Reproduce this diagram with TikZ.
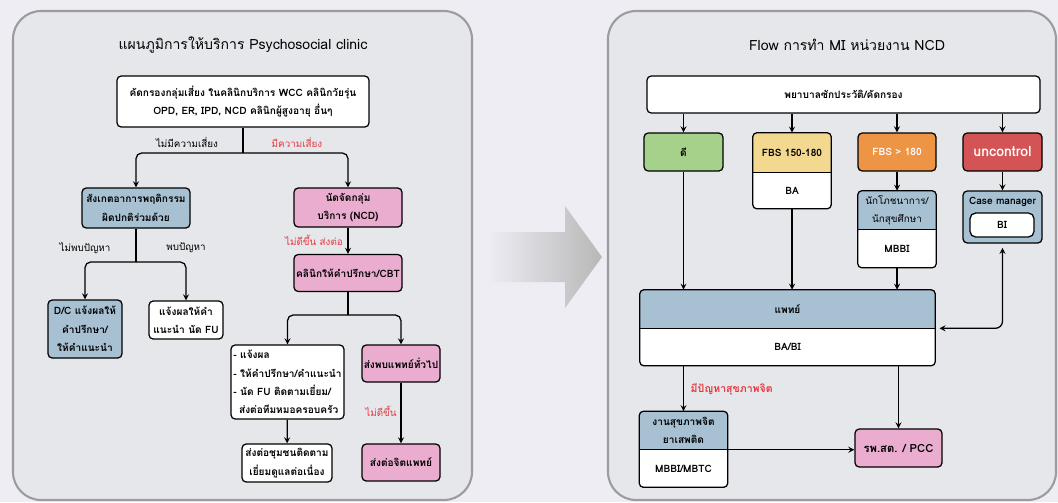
\documentclass[tikz,border=0pt]{standalone}
\usepackage{fontspec}
\setmainfont[Script=Thai]{Loma}
\usetikzlibrary{positioning}
\usetikzlibrary{arrows}
\usetikzlibrary{backgrounds}
\definecolor{pagebg}{HTML}{EEEDF4}
\definecolor{panelbg}{HTML}{E6E7EA}
\definecolor{panelline}{HTML}{9C9C9E}
\definecolor{bluebox}{HTML}{A7C1D3}
\definecolor{pinkbox}{HTML}{EAADCF}
\definecolor{greenbox}{HTML}{A6D18A}
\definecolor{yellowbox}{HTML}{F3D98F}
\definecolor{orangebox}{HTML}{EE9445}
\definecolor{redbox}{HTML}{D45456}
\definecolor{redtext}{HTML}{E8383D}
\begin{document}
\begin{tikzpicture}[x=0.025cm, y=-0.025cm,
  wh/.style 2 args={minimum width=#1*0.025cm, minimum height=#2*0.025cm},
  txt/.style={font=\fontsize{7.2}{13}\selectfont\bfseries, align=center, inner sep=1pt},
  box/.style={txt, draw, line width=0.9pt, rounded corners=3pt},
  part/.style={txt},
  lbl/.style={font=\fontsize{7}{9}\selectfont, inner sep=1pt},
  warn/.style={lbl, text=redtext},
  arr/.style={-stealth, line width=0.9pt},
  link/.style={line width=0.9pt},
  title/.style={font=\fontsize{10}{12}\selectfont}]
\useasboundingbox (0,0) rectangle (1058,502);
\begin{scope}[on background layer]
  \fill[pagebg] (0,0) rectangle (1058,502);
  \draw[panelline, fill=panelbg, line width=1.5pt, rounded corners=20pt] (13,11) rectangle (472,500);
  \draw[panelline, fill=panelbg, line width=1.5pt, rounded corners=20pt] (608,11) rectangle (1056,500);
  \shade[left color=pagebg, right color=black!28] (487,232) -- (565,232) -- (565,206) -- (602,257)
    -- (565,308) -- (565,282) -- (487,282) -- cycle;
\end{scope}

% left panel
\node[title] (ltitle) at (243,45) {แผนภูมิการให้บริการ Psychosocial clinic};
\node[box, fill=white, wh={252}{51}] (screen) at (243,101.5)
  {คัดกรองกลุ่มเสี่ยง ในคลินิกบริการ WCC คลินิกวัยรุ่น\\OPD, ER, IPD, NCD คลินิกผู้สูงอายุ อื่นๆ};
\node[box, fill=bluebox, wh={108}{40}] (observe) at (136,208) {สังเกตอาการพฤติกรรม\\ผิดปกติร่วมด้วย};
\node[box, fill=bluebox, wh={74}{58}] (dc) at (85,329) {D/C แจ้งผลให้\\คำปรึกษา/\\ให้คำแนะนำ};
\node[box, fill=white, wh={74}{38}] (inform) at (186,320) {แจ้งผลให้คำ\\แนะนำ นัด FU};
\node[box, fill=pinkbox, wh={108}{39}] (group) at (348,207.5) {นัดจัดกลุ่ม\\บริการ (NCD)};
\node[box, fill=pinkbox, wh={108}{37}] (cbt) at (348,273) {คลินิกให้คำปรึกษา/CBT};
\node[box, fill=white, wh={113}{74}, align=left] (advice) at (287.5,382)
  {- แจ้งผล\\- ให้คำปรึกษา/คำแนะนำ\\- นัด FU ติดตามเยี่ยม/\\\hspace*{4pt}ส่งต่อทีมหมอครอบครัว};
\node[box, fill=white, wh={90}{38}] (community) at (287,463) {ส่งต่อชุมชนติดตาม\\เยี่ยมดูแลต่อเนื่อง};
\node[box, fill=pinkbox, wh={78}{37}] (gp) at (401,363.5) {ส่งพบแพทย์ทั่วไป};
\node[box, fill=pinkbox, wh={78}{37}] (psych) at (401,462.5) {ส่งต่อจิตแพทย์};

\coordinate (j1) at (243,153);
\coordinate (j2) at (136,262);
\coordinate (j3) at (348,315);
\draw[link] (screen.south) -- (j1);
\draw[arr, rounded corners=4pt] (j1) -| (observe.north);
\draw[arr, rounded corners=4pt] (j1) -| (group.north);
\node[lbl] (norisk) at (187,142) {ไม่มีความเสี่ยง};
\node[warn] (risk) at (297,142) {มีความเสี่ยง};
\draw[link] (observe.south) -- (j2);
\draw[arr, rounded corners=4pt] (j2) -| (dc.north);
\draw[arr, rounded corners=4pt] (j2) -| (inform.north);
\node[lbl] (noprob) at (85,248) {ไม่พบปัญหา};
\node[lbl] (prob) at (186,248) {พบปัญหา};
\draw[arr] (group) -- (cbt);
\node[warn] (worse1) at (314,240) {ไม่ดีขึ้น ส่งต่อ};
\draw[link] (cbt.south) -- (j3);
\draw[arr, rounded corners=4pt] (j3) -| (advice.north);
\draw[arr, rounded corners=4pt] (j3) -| (gp.north);
\draw[arr] (advice) -- (community);
\draw[arr] (gp) -- (psych);
\node[warn] (worse2) at (381,411) {ไม่ดีขึ้น};

% right panel
\node[title] (rtitle) at (847,45) {Flow การทำ MI หน่วยงาน NCD};
\node[box, fill=white, wh={393}{37}] (nurse) at (843.5,94.5) {พยาบาลซักประวัติ/คัดกรอง};
\node[box, fill=greenbox, wh={79}{38}] (good) at (683.5,152) {ดี};
\node[part, wh={78}{39}] (fbs) at (792,152.5) {FBS 150-180};
\node[part, wh={78}{36}, below=0pt of fbs] (ba) {BA};
\node[box, fill=orangebox, wh={78}{38}, text=white] (high) at (897,152) {FBS > 180};
\node[box, fill=redbox, wh={79}{38}, text=white, font=\fontsize{10}{13}\selectfont\bfseries] (unc) at (1002.5,152) {uncontrol};
\node[part, wh={78}{38}, font=\fontsize{7}{13}\selectfont] (nut) at (897,210) {นักโภชนาการ/\\นักสุขศึกษา};
\node[part, wh={78}{38}, below=0pt of nut] (mbbi) {MBBI};
\node[box, fill=bluebox, wh={79}{52}] (cm) at (1002.5,217) {};
\node[txt] (cmtext) at (1002.5,202) {Case manager};
\node[box, fill=white, wh={64}{24}, rounded corners=4pt] (bi) at (1002,225) {BI};
\node[part, wh={295}{38}] (doc) at (787.5,309) {แพทย์};
\node[part, wh={295}{37}, below=0pt of doc] (babi) {BA/BI};
\node[part, wh={88}{38}] (mh) at (683.5,430.5) {งานสุขภาพจิต\\ยาเสพติด};
\node[part, wh={88}{37}, below=0pt of mh] (mbtc) {MBBI/MBTC};
\node[box, fill=pinkbox, wh={87}{38}, font=\fontsize{8}{13}\selectfont\bfseries] (pcc) at (898.5,448) {รพ.สต. / PCC};

\begin{scope}[on background layer]
\foreach \t/\b/\c in {fbs/ba/yellowbox, nut/mbbi/bluebox, doc/babi/bluebox, mh/mbtc/bluebox} {
  \fill[\c, rounded corners=3pt] (\t.south west) |- (\t.north east) -- (\t.south east);
  \fill[white, rounded corners=3pt] (\b.north west) |- (\b.south east) -- (\b.north east);
  \draw[link, rounded corners=3pt] (\t.north west) rectangle (\b.south east);
  \draw[link] (\t.south west) -- (\t.south east);
}
\end{scope}

\foreach \n in {good,fbs,high,unc}
  \draw[arr] (nurse.south -| \n.north) -- (\n.north);
\draw[arr] (good.south) -- (good.south |- doc.north);
\draw[arr] (ba.south) -- (ba.south |- doc.north);
\draw[arr] (high) -- (nut);
\draw[arr] (mbbi.south) -- (mbbi.south |- doc.north);
\draw[arr] (unc) -- (cm);
\draw[stealth-stealth, link, rounded corners=5pt, shorten <=3pt, shorten >=3pt] (cm.south) |- (doc.south east);
\draw[arr] (babi.south -| mh.north) -- (mh.north);
\node[warn, anchor=west, font=\fontsize{7.5}{9}\selectfont\bfseries] (mental) at (689,389) {มีปัญหาสุขภาพจิต};
\draw[arr] (babi.south -| pcc.north) -- (pcc.north);
\draw[arr] (mh.south east) -- (mh.south east -| pcc.west);
\end{tikzpicture}
\end{document}
